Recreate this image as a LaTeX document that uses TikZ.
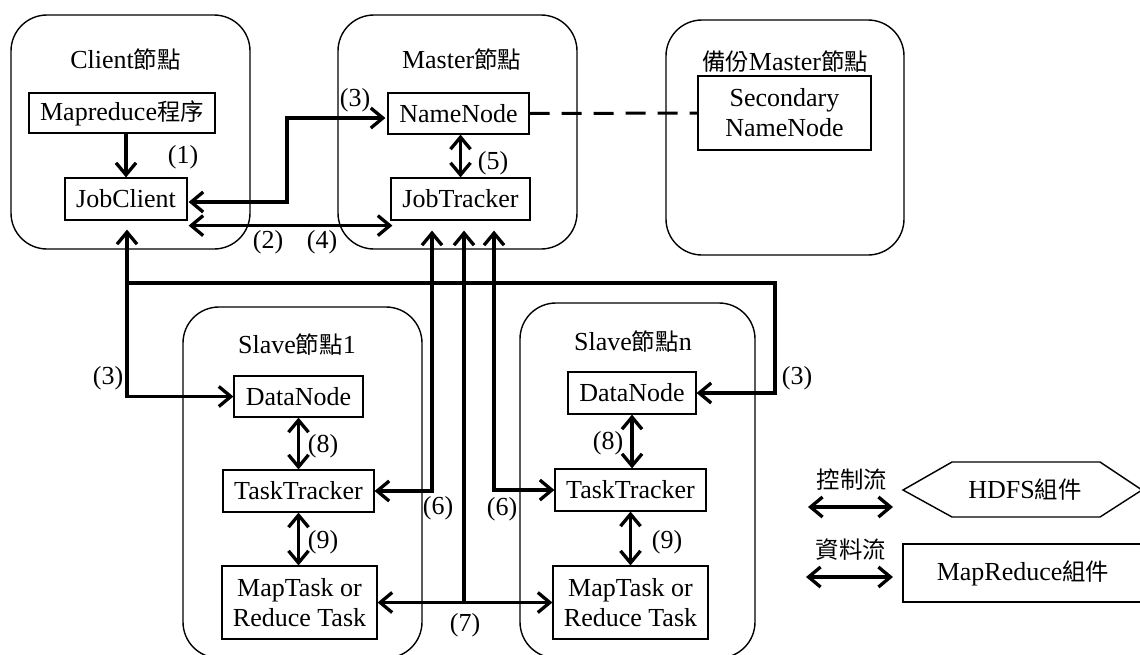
\documentclass[tikz,border=0pt]{standalone}
\usepackage{fontspec}
\setmainfont{Liberation Serif}
\newfontfamily\cjk{Noto Sans CJK TC}[Scale=0.9]
\newcommand{\zh}[1]{{\cjk #1}}
\usetikzlibrary{arrows.meta,calc}

\tikzset{
  every node/.style={font=\fontsize{26}{30}\selectfont, inner sep=0pt},
  group/.style={draw, line width=1.4pt, rounded corners=36pt},
  comp/.style={draw, line width=1.2pt, align=center},
  conn/.style={line width=3.3pt, >={Straight Barb[length=12pt,width=20pt]}},
  dashconn/.style={line width=3pt, dash pattern=on 20pt off 12pt},
}

\begin{document}
\begin{tikzpicture}[x=1pt,y=-1pt]
\useasboundingbox (0,0) rectangle (1140,654);
\clip (0,0) rectangle (1140,654);

% ---- host groups ----
\node[group, minimum width=239pt, minimum height=234pt] (client) at (130.5,132) {};
\node[group, minimum width=239pt, minimum height=234pt] (master) at (457.5,132) {};
\node[group, minimum width=238pt, minimum height=235pt] (backup) at (785,137.5) {};
\node[group, minimum width=239pt, minimum height=351pt] (slave1) at (302.5,482.5) {};
\node[group, minimum width=235pt, minimum height=355pt] (slaven) at (637.5,480.5) {};

\node (clientT) at (125.5,60) {Client\zh{節點}};
\node (masterT) at (461.5,60) {Master\zh{節點}};
\node (backupT) at (785,62) {\zh{備份}Master\zh{節點}};
\node (slave1T) at (297,345) {Slave\zh{節點}1};
\node (slavenT) at (633,342) {Slave\zh{節點}n};

% ---- components ----
\node[comp, minimum width=186pt, minimum height=40pt] (mr) at (122,113) {Mapreduce\zh{程序}};
\node[comp, minimum width=122pt, minimum height=42pt] (jc) at (126,199) {JobClient};
\node[comp, minimum width=141pt, minimum height=41pt] (nn) at (458.5,113.5) {NameNode};
\node[comp, minimum width=139pt, minimum height=42pt] (jt) at (460.5,199) {JobTracker};
\node[comp, minimum width=173pt, minimum height=74pt] (snn) at (784.5,113) {Secondary\\NameNode};

\node[comp, minimum width=129pt, minimum height=41pt] (dn1) at (298.5,396.5) {DataNode};
\node[comp, minimum width=151pt, minimum height=42pt] (tt1) at (298.5,491) {TaskTracker};
\node[comp, minimum width=155pt, minimum height=73pt] (mt1) at (299.5,602.5) {MapTask or\\Reduce Task};

\node[comp, minimum width=128pt, minimum height=42pt] (dnn) at (632,393) {DataNode};
\node[comp, minimum width=151pt, minimum height=42pt] (ttn) at (630.5,490) {TaskTracker};
\node[comp, minimum width=155pt, minimum height=73pt] (mtn) at (630.5,602.5) {MapTask or\\Reduce Task};

% ---- routing points ----
\coordinate (k3) at (287,160);
\coordinate (busL) at (127,283);
\coordinate (busR) at (775,283);
\coordinate (c6L) at (432,300);
\coordinate (c7) at (464,300);
\coordinate (c6R) at (494,300);

% ---- connectors ----
\draw[conn,->] (jc.north |- mr.south) -- (jc.north);
\draw[conn,<->] ($(jc.east)+(1,3)$) -| (k3) |- ($(nn.west)+(-2,4.5)$);
\draw[conn,<->] ($(jc.south east)+(1,5)$) -- ($(jt.south west)+(2,5)$);
\draw[conn,<->] (jt.north |- nn.south) -- (jt.north);
\draw[dashconn] (nn.east) -- (snn.west);

\draw[conn,<->] ($(jc.south)+(1,9)$) -- (busL) |- (dn1.west);
\draw[conn,->] (busL) -- (busR) |- (dnn.east);

\draw[conn,<->] ($(jt.south -| c6L)+(0,10)$) -- (c6L) |- (tt1.east);
\draw[conn,<->] (mt1.east) -- (mtn.west);
\draw[conn,->] (c7 |- mt1.east) -- ($(jt.south -| c7)+(0,10)$);
\draw[conn,<->] ($(jt.south -| c6R)+(0,10)$) -- (c6R) |- (ttn.west);

\draw[conn,<->] (dn1.south) -- (tt1.north);
\draw[conn,<->] (tt1.south) -- (tt1.south |- mt1.north);
\draw[conn,<->] (dnn.south) -- (dnn.south |- ttn.north);
\draw[conn,<->] (ttn.south) -- (ttn.south |- mtn.north);

% ---- step labels ----
\node (l1) at (183,157) {(1)};
\node (l3a) at (355,100) {(3)};
\node (l2) at (268,242) {(2)};
\node (l4) at (322,242) {(4)};
\node (l5) at (493,163) {(5)};
\node (l3b) at (108,378) {(3)};
\node (l3c) at (797,378) {(3)};
\node (l8a) at (323,446) {(8)};
\node (l9a) at (323,542) {(9)};
\node (l6a) at (438,508) {(6)};
\node (l6b) at (502,509) {(6)};
\node (l7) at (465,625) {(7)};
\node (l8b) at (608,443) {(8)};
\node (l9b) at (667,542) {(9)};

% ---- legend ----
\node (ctrlT) at (852,480) {\zh{控制流}};
\coordinate (ctrlA) at (808,507);
\coordinate (ctrlB) at (893,507);
\draw[conn,<->] (ctrlA) -- (ctrlB);
\node (dataT) at (851,550) {\zh{資料流}};
\coordinate (dataA) at (806,577);
\coordinate (dataB) at (893,577);
\draw[conn,<->] (dataA) -- (dataB);

\draw[line width=1.4pt] (903,490) -- (952,462) -- (1100,462) -- (1142,490) -- (1100,517) -- (952,517) -- cycle;
\node (hdfs) at (1025,490) {HDFS\zh{組件}};
\draw[line width=1.4pt] (903,544) rectangle (1160,602);
\node (mrleg) at (1023,573) {MapReduce\zh{組件}};
\end{tikzpicture}
\end{document}
